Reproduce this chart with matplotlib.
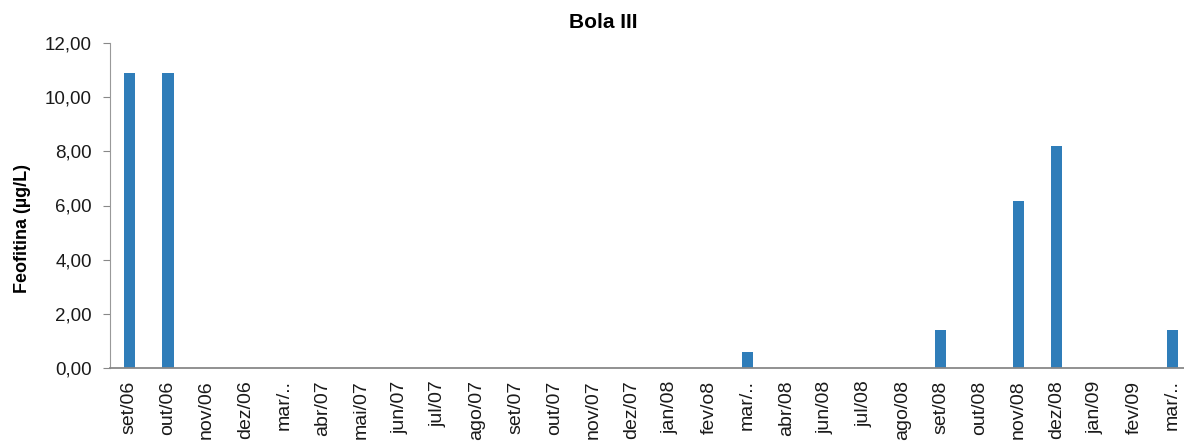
import matplotlib
matplotlib.use("Agg")
import matplotlib.pyplot as plt
from matplotlib.ticker import FuncFormatter

categories = ["set/06", "out/06", "nov/06", "dez/06", "mar/..", "abr/07", "mai/07",
              "jun/07", "jul/07", "ago/07", "set/07", "out/07", "nov/07", "dez/07",
              "jan/08", "fev/o8", "mar/..", "abr/08", "jun/08", "jul/08", "ago/08",
              "set/08", "out/08", "nov/08", "dez/08", "jan/09", "fev/09", "mar/.."]
values = [10.9, 10.9, 0, 0, 0, 0, 0, 0, 0, 0, 0, 0, 0, 0,
          0, 0, 0.6, 0, 0, 0, 0, 1.4, 0, 6.15, 8.2, 0, 0, 1.4]
yticks = [0, 2, 4, 6, 8, 10, 12]

plt.rcParams["font.family"] = ["Liberation Sans", "DejaVu Sans"]

fig = plt.figure(figsize=(11.84, 4.43), dpi=100)
ax = fig.add_axes([110 / 1184, 75 / 443, (1192 - 110) / 1184, 325 / 443])

x = list(range(len(categories)))
ax.bar(x, values, width=0.29, color="#2F7DB9")

ax.set_xlim(-0.5, len(categories) - 0.5)
ax.set_ylim(0, 12)
ax.set_yticks(yticks)
ax.yaxis.set_major_formatter(FuncFormatter(lambda v, p: f"{v:.2f}".replace(".", ",")))
ax.set_xticks(x)
ax.set_xticklabels(categories, rotation=90, fontsize=14, color="#1a1a1a")
ax.tick_params(axis="x", length=0, pad=9)
ax.tick_params(axis="y", length=5, color="#888888", labelsize=13.5, labelcolor="#1a1a1a", pad=8)

for side in ("top", "right"):
    ax.spines[side].set_visible(False)
ax.spines["left"].set_color("#999999")
ax.spines["bottom"].set_color("#888888")
ax.spines["bottom"].set_linewidth(1.3)

ax.set_ylabel("Feofitina (µg/L)", fontsize=13, fontweight="bold")
ax.yaxis.set_label_coords(-0.073, 0.43)
fig.text(603 / 1184, 1 - 22 / 443, "Bola III", ha="center", va="center",
         fontsize=15, fontweight="bold")

fig.savefig("out.png", dpi=100)
